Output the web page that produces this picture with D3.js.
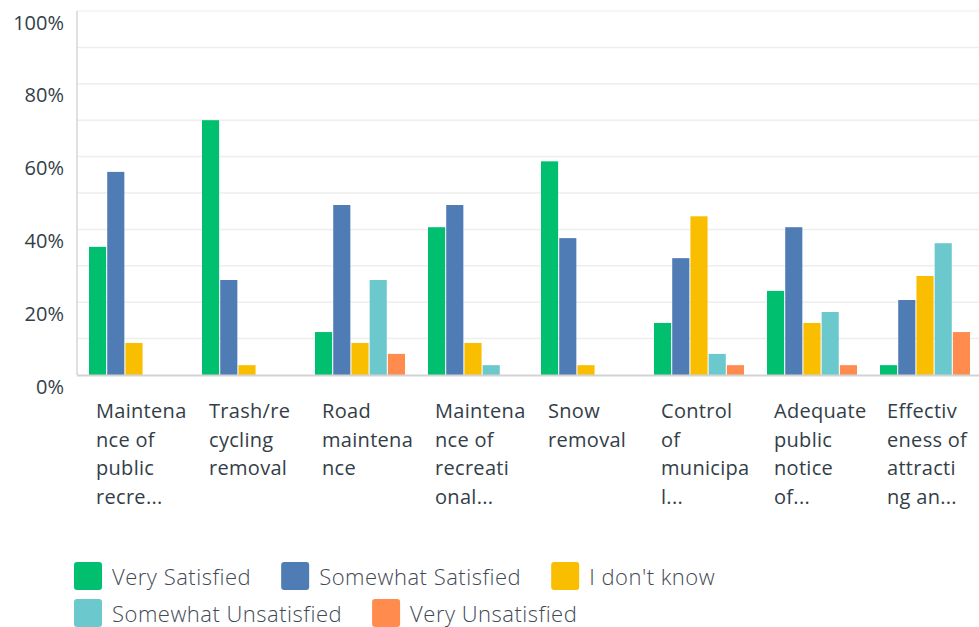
<!DOCTYPE html>
<html>
<head>
<meta charset="utf-8">
<script src="https://cdn.jsdelivr.net/npm/d3@7/dist/d3.min.js"></script>
<style>
  html, body { margin: 0; padding: 0; background: #fff; }
  svg { display: block; }
  text { font-family: "Open Sans", "Noto Sans", sans-serif; }
</style>
</head>
<body>
<svg id="chart" width="979" height="627"></svg>
<script>
const categories = [
  "Maintenance of public recreation",
  "Trash/recycling removal",
  "Road maintenance",
  "Maintenance of recreational",
  "Snow removal",
  "Control of municipal",
  "Adequate public notice of",
  "Effectiveness of attracting and"
];
const categoryLines = [
  ["Maintena", "nce of", "public", "recre..."],
  ["Trash/re", "cycling", "removal"],
  ["Road", "maintena", "nce"],
  ["Maintena", "nce of", "recreati", "onal..."],
  ["Snow", "removal"],
  ["Control", "of", "municipa", "l..."],
  ["Adequate", "public", "notice", "of..."],
  ["Effectiv", "eness of", "attracti", "ng an..."]
];
const seriesNames = ["Very Satisfied", "Somewhat Satisfied", "I don't know", "Somewhat Unsatisfied", "Very Unsatisfied"];
const seriesColors = ["#00bf6f", "#507cb6", "#f9be00", "#6bc8cd", "#ff8b4f"];
const verySatisfied       = [35.2, 70.0, 11.8, 40.6, 58.7, 14.3, 23.1, 2.7];
const somewhatSatisfied   = [55.8, 26.1, 46.7, 46.7, 37.6, 32.1, 40.6, 20.6];
const dontKnow            = [8.8, 2.7, 8.8, 8.8, 2.7, 43.6, 14.3, 27.2];
const somewhatUnsatisfied = [0, 0, 26.1, 2.7, 0, 5.8, 17.3, 36.2];
const veryUnsatisfied     = [0, 0, 5.8, 0, 0, 2.7, 2.7, 11.8];
const yTicks = [0, 20, 40, 60, 80, 100];
const yGrid = [10, 20, 30, 40, 50, 60, 70, 80, 90, 100];

const seriesValues = [verySatisfied, somewhatSatisfied, dontKnow, somewhatUnsatisfied, veryUnsatisfied];

const svg = d3.select("#chart");
const mLeft = 77, mRight = 981, mTop = 11, mBottom = 375;

const x0 = d3.scaleBand().domain(categories).range([mLeft, mRight]).padding(0);
const x1 = d3.scaleBand().domain(seriesNames).range([12, 102]).paddingInner(0.06);
const y = d3.scaleLinear().domain([0, 100]).range([mBottom, mTop]);

// gridlines
svg.append("g").selectAll("line").data(yGrid).join("line")
  .attr("x1", mLeft).attr("x2", 979)
  .attr("y1", d => y(d)).attr("y2", d => y(d))
  .attr("stroke", d => d === 100 ? "#f3f3f3" : "#eeeeee")
  .attr("stroke-width", 1.5);

// y axis line
svg.append("line").attr("x1", mLeft).attr("x2", mLeft).attr("y1", y(100)).attr("y2", y(0))
  .attr("stroke", "#d6d6d6").attr("stroke-width", 1.5);

// y tick labels
svg.append("g").selectAll("text").data(yTicks).join("text")
  .attr("x", 64).attr("y", d => y(d) + 18.5)
  .attr("text-anchor", "end")
  .attr("font-size", 20)
  .attr("fill", "#333e48")
  .text(d => d + "%");

// bars
const rows = categories.map((c, i) => ({ cat: c, vals: seriesNames.map((s, j) => ({ s, j, v: seriesValues[j][i] })) }));
const g = svg.append("g").selectAll("g").data(rows).join("g")
  .attr("transform", d => `translate(${x0(d.cat)},0)`);
g.selectAll("rect").data(d => d.vals.filter(e => e.v > 0)).join("rect")
  .attr("x", d => x1(d.s))
  .attr("width", x1.bandwidth())
  .attr("y", d => y(d.v))
  .attr("height", d => y(0) - y(d.v))
  .attr("fill", d => seriesColors[d.j]);

// baseline
svg.append("line").attr("x1", mLeft).attr("x2", 979).attr("y1", y(0) + 0.5).attr("y2", y(0) + 0.5)
  .attr("stroke", "#d3d3d3").attr("stroke-width", 2);

// x labels
const xl = svg.append("g").selectAll("text").data(categories).join("text")
  .attr("x", d => x0(d) + 19)
  .attr("y", 418)
  .attr("font-size", 20)
  .attr("letter-spacing", 0.3)
  .attr("fill", "#333e48");
xl.each(function(d, i) {
  d3.select(this).selectAll("tspan").data(categoryLines[i]).join("tspan")
    .attr("x", x0(d) + 19)
    .attr("dy", (t, k) => k === 0 ? 0 : 28.5)
    .text(t => t);
});

// legend
const legendRows = [[0, 1, 2], [3, 4]];
legendRows.forEach((row, r) => {
  let cx = 74;
  const cy = 562 + r * 37;
  row.forEach(j => {
    const item = svg.append("g").attr("transform", `translate(${cx},${cy})`);
    item.append("rect").attr("width", 28).attr("height", 28).attr("rx", 3).attr("fill", seriesColors[j]);
    const t = item.append("text").attr("x", 38).attr("y", 22.5)
      .attr("font-size", 22).attr("font-weight", 300).attr("letter-spacing", 0.5)
      .attr("fill", "#3f4a55").text(seriesNames[j]);
    const w = t.node().getComputedTextLength();
    cx += 38 + w + 30;
  });
});
</script>
</body>
</html>
